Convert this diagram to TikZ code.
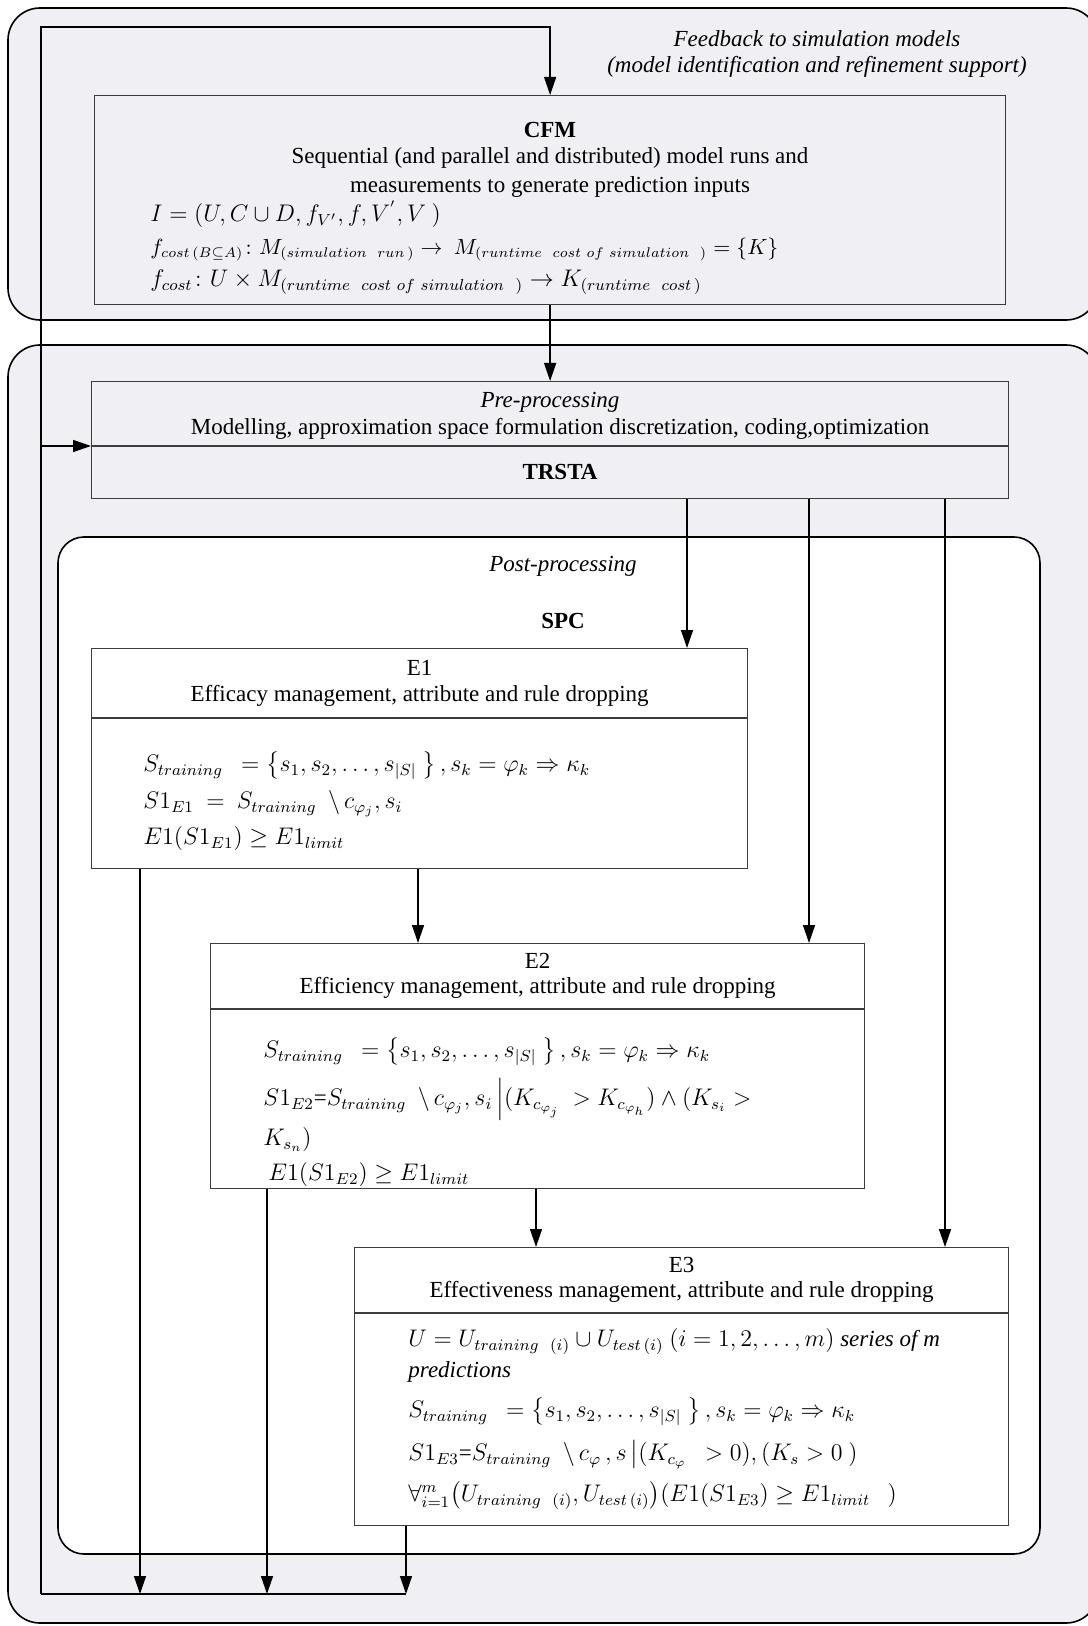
\documentclass[tikz,border=0pt]{standalone}
\usepackage{amsmath,amssymb}
\usepackage{fontspec}
\setmainfont{Liberation Serif}
\usetikzlibrary{positioning, arrows.meta, calc}

\definecolor{panelgray}{RGB}{240,239,244}
\definecolor{boxline}{RGB}{60,60,60}

\begin{document}
\begin{tikzpicture}[
        x=0.5pt, y=-0.5pt,
        >={Triangle[length=9pt, width=6pt]},
        font=\fontsize{11.5}{13}\selectfont,
        panel/.style={draw, line width=0.8pt, fill=panelgray, rounded corners=16pt},
        block/.style={draw=boxline, line width=0.6pt, anchor=north west, inner sep=0pt},
        formula/.style={anchor=mid west, inner sep=0pt, font=\fontsize{11.5}{14}\selectfont},
        conn/.style={->, line width=0.7pt},
        wire/.style={line width=0.7pt},
    ]
    \useasboundingbox (0,0) rectangle (1087,1626);

        % Panels
        \draw[panel] (8,8) rectangle (1098,320);
        \draw[panel] (8,345) rectangle (1098,1623);
        \draw[panel, fill=white, rounded corners=13pt] (58,537) rectangle (1040,1554);

        % CFM block
        \node[block, fill=panelgray, minimum width=455.5pt, minimum height=104.5pt] (cfm) at (94,95) {};
        \node[font=\fontsize{11.5}{13}\bfseries] (cfm-title) at (550,130) {CFM};
        \node (cfm-l1) at (550,158) {Sequential (and parallel and distributed) model runs and};
        \node (cfm-l2) at (550,187) {measurements to generate prediction inputs};
        \node[formula] (cfm-f1) at (150,217) {$I = (U, C \cup D, f_{V'}, f, V^{'}, V\ )$};
        \node[formula, font=\fontsize{10.6}{13}\selectfont] (cfm-f2) at (150,250) {$f_{cost\,(B\subseteq A)}\colon M_{(simulation\ \ run\,)} \rightarrow\ M_{(runtime\ \ cost\ of\ simulation\ \ )} = \{K\}$};
        \node[formula] (cfm-f3) at (150,282) {$f_{cost}\colon U \times M_{(runtime\ \ cost\ of\ simulation\ \ )} \rightarrow K_{(runtime\ \ cost\,)}$};

        % Feedback label
        \node[font=\fontsize{11.5}{13}\itshape] (fb-l1) at (817,39) {Feedback to simulation models};
        \node[font=\fontsize{11.5}{13}\itshape] (fb-l2) at (817,67) {(model identification and refinement support)};

        % Pre-processing block
        \node[block, fill=panelgray, minimum width=458.5pt, minimum height=58.5pt] (pre) at (91,381) {};
        \draw[boxline, line width=0.6pt] (pre.west |- 0,446) -- (pre.east |- 0,446);
        \node[font=\fontsize{11.5}{13}\itshape] (pre-title) at (550,402) {Pre-processing};
        \node (pre-desc) at (560,429) {Modelling, approximation space formulation discretization, coding,optimization};
        \node[font=\fontsize{11.5}{13}\bfseries] (trsta) at (560,472) {TRSTA};

        % Post-processing
        \node[font=\fontsize{11.5}{13}\itshape] (post-title) at (563,566) {Post-processing};
        \node[font=\fontsize{11.5}{13}\bfseries] (spc) at (563,621) {SPC};

        % E1
        \node[block, fill=white, minimum width=328pt, minimum height=110pt] (e1) at (91,648) {};
        \draw[boxline, line width=0.6pt] (e1.west |- 0,718) -- (e1.east |- 0,718);
        \node (e1-title) at (e1.north |- 0,668) {E1};
        \node (e1-desc) at (e1.north |- 0,696) {Efficacy management, attribute and rule dropping};
        \node[formula] (e1-f1) at (143,767) {$S_{training}\ \ = \left\{s_1, s_2, \dots, s_{|S|}\ \right\}, s_k = \varphi_k \Rightarrow \kappa_k$};
        \node[formula] (e1-f2) at (143,804) {$S1_{E1}\ =\ S_{training}\ \ \backslash\, c_{\varphi_j}, s_i$};
        \node[formula] (e1-f3) at (143,840) {$E1(S1_{E1}) \geq E1_{limit}$};

        % E2
        \node[block, fill=white, minimum width=327pt, minimum height=122.5pt] (e2) at (210,943) {};
        \draw[boxline, line width=0.6pt] (e2.west |- 0,1009) -- (e2.east |- 0,1009);
        \node (e2-title) at (e2.north |- 0,961) {E2};
        \node (e2-desc) at (e2.north |- 0,988) {Efficiency management, attribute and rule dropping};
        \node[formula] (e2-f1) at (263,1053) {$S_{training}\ \ = \left\{s_1, s_2, \dots, s_{|S|}\ \right\}, s_k = \varphi_k \Rightarrow \kappa_k$};
        \node[formula] (e2-f2) at (263,1101) {$S1_{E2}$=$S_{training}\ \ \backslash\, c_{\varphi_j}, s_i\, \smash{\Big|}(K_{c_{\varphi_j}}\ > K_{c_{\varphi_h}}) \wedge (K_{s_i} >$};
        \node[formula] (e2-f3) at (263,1141) {$K_{s_n})$};
        \node[formula] (e2-f4) at (268,1176) {$E1(S1_{E2}) \geq E1_{limit}$};

        % E3
        \node[block, fill=white, minimum width=327pt, minimum height=139pt] (e3) at (354,1247) {};
        \draw[boxline, line width=0.6pt] (e3.west |- 0,1313) -- (e3.east |- 0,1313);
        \node (e3-title) at (e3.north |- 0,1265) {E3};
        \node (e3-desc) at (e3.north |- 0,1292) {Effectiveness management, attribute and rule dropping};
        \node[formula] (e3-f1) at (408,1342) {$U = U_{training\ \ (i)} \cup U_{test\,(i)}\ (i = 1,2, \dots, m)$ \textit{series of m}};
        \node[formula] (e3-f2) at (408,1373) {\textit{predictions}};
        \node[formula] (e3-f3) at (408,1413) {$S_{training}\ \ = \left\{s_1, s_2, \dots, s_{|S|}\ \right\}, s_k = \varphi_k \Rightarrow \kappa_k$};
        \node[formula] (e3-f4) at (408,1456) {$S1_{E3}$=$S_{training}\ \ \backslash\, c_{\varphi}\,, s\, \smash{\big|}(K_{c_{\varphi}}\ \ > 0), (K_s > 0\ )$};
        \node[formula] (e3-f5) at (408,1497) {$\forall_{i=1}^{m} \big(U_{training\ \ (i)}, U_{test\,(i)}\big)(E1(S1_{E3}) \geq E1_{limit}\ \ \ )$};

        % Feedback loop
        \coordinate (fb-bot) at (41,1594);
        \coordinate (fb-top) at (41,27);
        \draw[conn] (fb-bot) -- (fb-top) -- (cfm.north |- fb-top) -- (cfm.north);
        \draw[conn] (fb-top |- 0,446) -- (pre.west |- 0,446);

        % CFM to pre-processing
        \draw[conn] (cfm.south) -- (pre.north);

        % TRSTA to the three stages
        \foreach \dest / \x in {e1/687, e2/809, e3/945}
            \draw[conn] (pre.south -| \x,0) -- (\dest.north -| \x,0);

        % Stage to stage
        \draw[conn] (e1.south -| 418,0) -- (e2.north -| 418,0);
        \draw[conn] (e2.south -| 536,0) -- (e3.north -| 536,0);

        % Stages back to the feedback loop
        \foreach \source / \x in {e1/140, e2/267, e3/406}
            \draw[conn] (\source.south -| \x,0) -- (fb-bot -| \x,0);
        \draw[wire] (fb-bot) -- (fb-bot -| 406,0);
    \end{tikzpicture}
\end{document}
